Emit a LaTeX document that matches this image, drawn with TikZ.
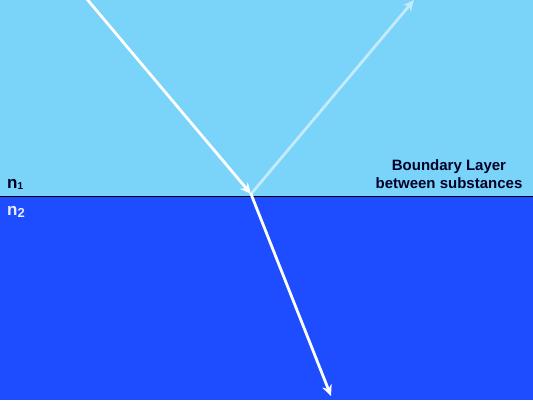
\documentclass[tikz,border=0pt]{standalone}
\usepackage{fontspec}
\setmainfont{Liberation Sans}
\usetikzlibrary{arrows.meta}
\definecolor{upper}{HTML}{7AD3F8}
\definecolor{lower}{HTML}{1D4DFF}
\tikzset{
  ray/.style={white, line width=2.8pt, -{Stealth[length=11pt,width=10pt]}},
  lbl/.style={inner sep=0pt},
}
\begin{document}
\begin{tikzpicture}[x=1pt,y=-1pt]
\useasboundingbox (0,0) rectangle (533,400);
\fill[upper] (0,0) rectangle (533,196);
\fill[lower] (0,196) rectangle (533,400);
\draw[black, line width=0.8pt] (0,196) -- (533,196);
\coordinate (src) at (86,-2);
\coordinate (hit) at (251,194);
\coordinate (refl) at (414,0);
\coordinate (refr) at (331,396);
\draw[ray] (src) -- (hit);
\draw[ray, white!55!upper] (hit) -- (refl);
\draw[ray, shorten <=-1pt] (hit) -- (refr);
\node[lbl, anchor=west, text=black!85!blue, font=\bfseries\fontsize{17}{19}\selectfont] (n1) at (7,184) {n\raisebox{-0.1ex}{\fontsize{10}{10}\selectfont 1}};
\node[lbl, anchor=west, text=white!90!lower, font=\bfseries\fontsize{17}{19}\selectfont] (n2) at (7,212) {n\raisebox{-0.2ex}{\fontsize{13}{13}\selectfont 2}};
\node[lbl, align=center, text=black!85!blue, font=\bfseries\fontsize{15}{18}\selectfont] (bl) at (449,174) {Boundary Layer\\between substances};
\end{tikzpicture}
\end{document}
